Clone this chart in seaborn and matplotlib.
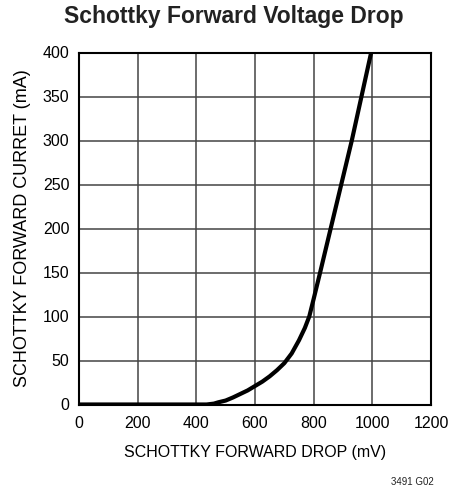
import matplotlib
matplotlib.use("Agg")
import matplotlib.pyplot as plt
import seaborn as sns
import pandas as pd

# Data
drop_mv = [0, 435, 460, 475, 500, 525, 550, 575, 600, 625, 650, 675, 700, 725, 750, 770,
           785, 800, 822, 858, 894, 930, 963, 996]
current_ma = [0, 0, 1, 2.5, 4.5, 8, 12, 16, 21, 26, 32, 39, 47, 58, 73, 87,
              100, 120, 150, 200, 250, 300, 350, 400]
x_ticks = [0, 200, 400, 600, 800, 1000, 1200]
y_ticks = [0, 50, 100, 150, 200, 250, 300, 350, 400]

sns.set_theme(style="white")
plt.rcParams['font.family'] = ['Liberation Sans', 'DejaVu Sans']

df = pd.DataFrame({"drop": drop_mv, "current": current_ma})

fig = plt.figure(figsize=(4.49, 4.88), dpi=100)
ax = fig.add_axes([79 / 449, 1 - 404.5 / 488, 352 / 449, 352 / 488])

sns.lineplot(data=df, x="drop", y="current", ax=ax, color="black", linewidth=3,
             solid_capstyle="butt", solid_joinstyle="round")

ax.set_xlim(0, 1200)
ax.set_ylim(0, 400)
ax.set_xticks(x_ticks)
ax.set_yticks(y_ticks)
ax.grid(True, color="#444444", linewidth=1.1)
ax.tick_params(length=0, labelsize=11.5, colors="black")
ax.tick_params(axis="x", pad=8)
ax.tick_params(axis="y", pad=7)
for s in ax.spines.values():
    s.set_color("black")
    s.set_linewidth(1.5)

ax.set_xlabel("SCHOTTKY FORWARD DROP (mV)", fontsize=11.5, color="black", labelpad=10)
ax.set_ylabel("SCHOTTKY FORWARD CURRET (mA)", fontsize=13, color="black", labelpad=8)

fig.text(234 / 449, 1 - 17 / 488, "Schottky Forward Voltage Drop", ha="center", va="center",
         fontsize=16.5, fontweight="bold", color="#222222")
fig.text(412 / 449, 1 - 482 / 488, "3491 G02", ha="center", va="center", fontsize=7, color="#222222")

fig.savefig("out.png", dpi=100)
